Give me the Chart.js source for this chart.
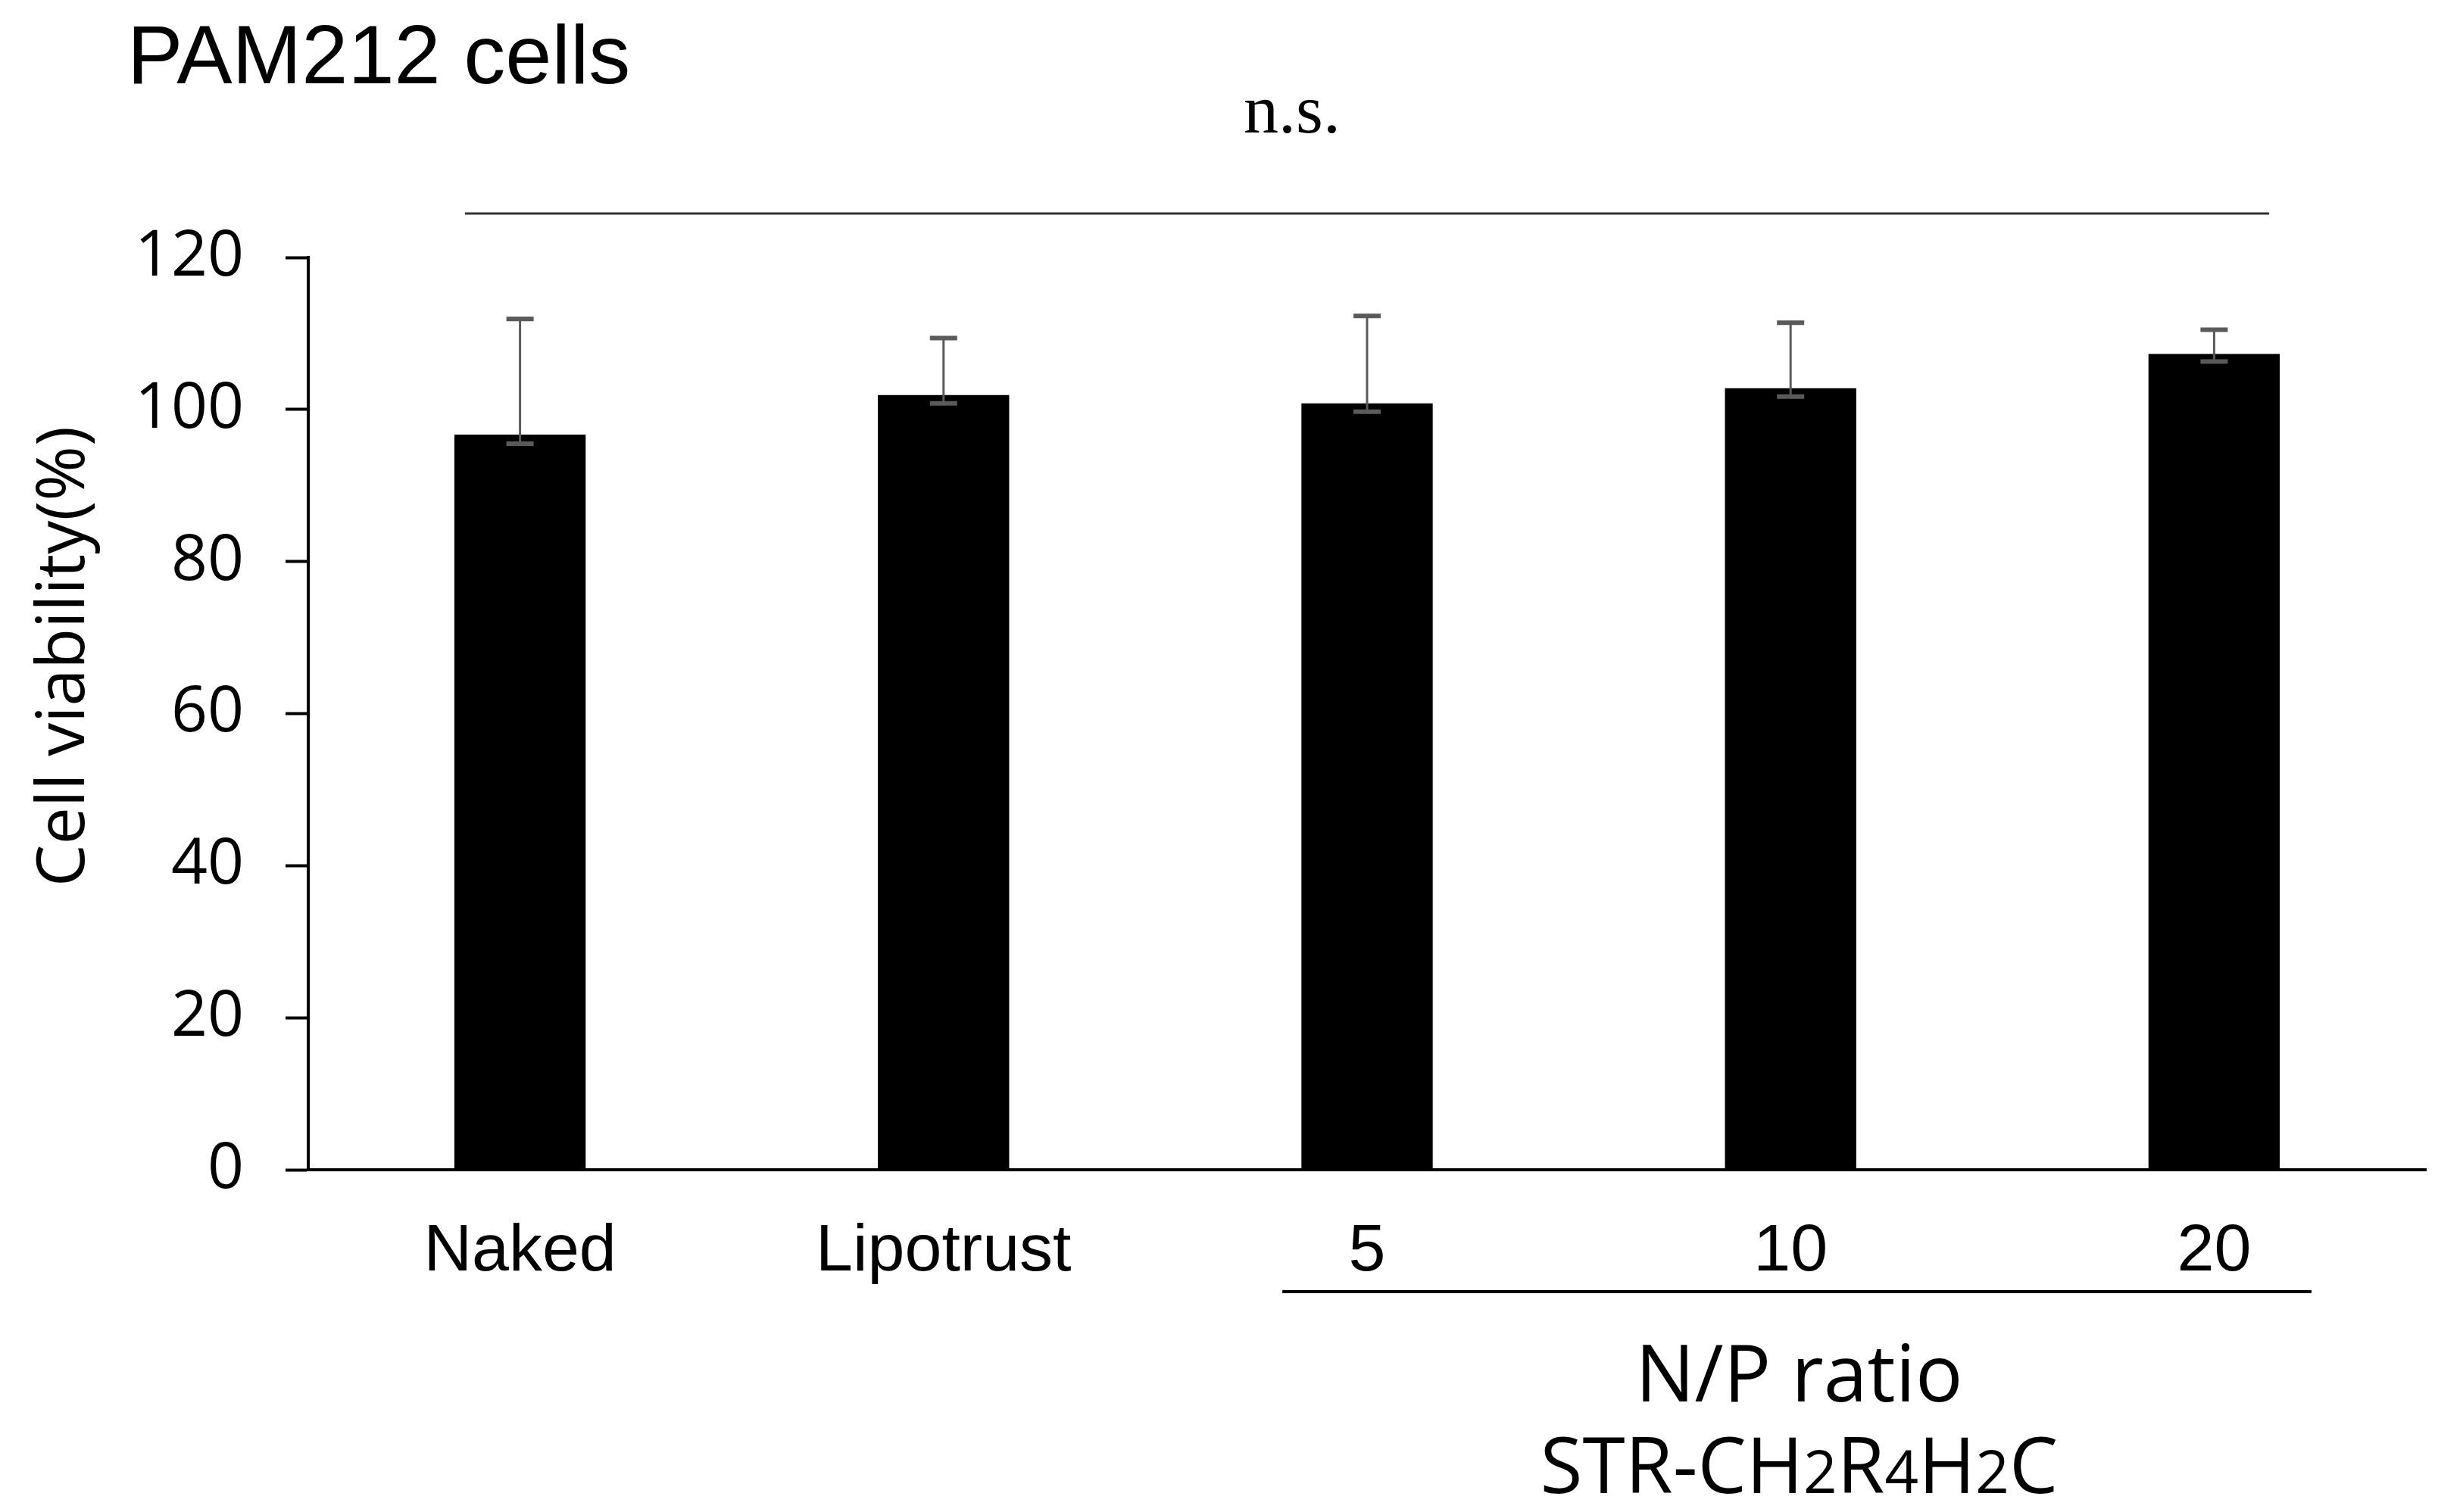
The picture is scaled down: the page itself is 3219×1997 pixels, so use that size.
<!DOCTYPE html>
<html>
<head>
<meta charset="utf-8">
<script src="https://cdn.jsdelivr.net/npm/chart.js@4.4.1/dist/chart.umd.min.js"></script>
<style>
    html, body { margin: 0; padding: 0; background: #fff; }
    canvas { display: block; }
</style>
</head>
<body>
<canvas id="chart" width="3219" height="1997"></canvas>
<script>
const categories = ['Naked', 'Lipotrust', '5', '10', '20'];
const viability = [96.7, 101.9, 100.8, 102.8, 107.3];
const errPlus = [15.2, 7.5, 11.5, 8.6, 3.2];
const errMinus = [1.2, 1.1, 1.1, 1.1, 1.0];
const yTicks = [0, 20, 40, 60, 80, 100, 120];

const titleText = 'PAM212 cells';
const sigText = 'n.s.';
const yTitle = 'Cell viability(%)';
const groupTitle = 'N/P ratio';
// peptide name, split so the digits can be drawn smaller
const peptideParts = [['STR-CH', false], ['2', true], ['R', false], ['4', true], ['H', false], ['2', true], ['C', false]];

const extras = {
    id: 'extras',
    afterDatasetsDraw(chart) {
        const ctx = chart.ctx;
        const x = chart.scales.x;
        const y = chart.scales.y;
        ctx.save();
        ctx.strokeStyle = '#5a5a5a';
        viability.forEach((v, i) => {
            const cx = x.getPixelForValue(i);
            const top = y.getPixelForValue(v + errPlus[i]);
            const low = y.getPixelForValue(v - errMinus[i]);
            ctx.lineWidth = 3;
            ctx.beginPath();
            ctx.moveTo(cx, top);
            ctx.lineTo(cx, low);
            ctx.stroke();
            ctx.lineWidth = 6;
            ctx.beginPath();
            ctx.moveTo(cx - 18, top);
            ctx.lineTo(cx + 18, top);
            ctx.moveTo(cx - 18, low);
            ctx.lineTo(cx + 18, low);
            ctx.stroke();
        });
        ctx.restore();
    },
    afterDraw(chart) {
        const ctx = chart.ctx;
        const x = chart.scales.x;
        const step = x.getPixelForValue(1) - x.getPixelForValue(0);
        ctx.save();
        ctx.fillStyle = '#000';

        // title
        ctx.font = '110px "Liberation Sans"';
        ctx.textAlign = 'left';
        ctx.textBaseline = 'alphabetic';
        ctx.fillText(titleText, 168, 110);

        // significance bracket
        const sigLeft = x.getPixelForValue(0) - step * 0.13;
        const sigRight = x.getPixelForValue(4) + step * 0.13;
        ctx.strokeStyle = '#333';
        ctx.lineWidth = 3;
        ctx.beginPath();
        ctx.moveTo(sigLeft, 282);
        ctx.lineTo(sigRight, 282);
        ctx.stroke();
        ctx.font = '92px "Liberation Serif"';
        ctx.textAlign = 'center';
        ctx.fillText(sigText, 1706, 175);

        // y title
        ctx.save();
        ctx.translate(111, 867);
        ctx.rotate(-Math.PI / 2);
        ctx.font = '88px "Open Sans"';
        ctx.textAlign = 'center';
        ctx.fillText(yTitle, 0, 0);
        ctx.restore();

        // N/P ratio group
        const gLeft = x.getPixelForValue(2) - step * 0.2;
        const gRight = x.getPixelForValue(4) + step * 0.23;
        ctx.strokeStyle = '#000';
        ctx.lineWidth = 4;
        ctx.beginPath();
        ctx.moveTo(gLeft, 1706);
        ctx.lineTo(gRight, 1706);
        ctx.stroke();
        const gCenter = x.getPixelForValue(3) + step * 0.02;
        ctx.font = '104px "Open Sans"';
        ctx.textAlign = 'center';
        ctx.fillText(groupTitle, gCenter, 1851);

        // peptide name with small digits
        const big = '102px "Open Sans"';
        const small = '78px "Open Sans"';
        let total = 0;
        peptideParts.forEach(([t, s]) => {
            ctx.font = s ? small : big;
            total += ctx.measureText(t).width;
        });
        let px = gCenter - total / 2;
        ctx.textAlign = 'left';
        peptideParts.forEach(([t, s]) => {
            ctx.font = s ? small : big;
            ctx.fillText(t, px, 1972);
            px += ctx.measureText(t).width;
        });
        ctx.restore();
    }
};

new Chart(document.getElementById('chart'), {
    type: 'bar',
    data: {
        labels: categories,
        datasets: [{
            data: viability,
            backgroundColor: '#000',
            borderWidth: 0,
            barPercentage: 0.31,
            categoryPercentage: 1
        }]
    },
    options: {
        responsive: false,
        devicePixelRatio: 1,
        animation: false,
        layout: { padding: { top: 340, right: 16, left: 0, bottom: 0 } },
        plugins: { legend: { display: false }, tooltip: { enabled: false } },
        scales: {
            x: {
                grid: { display: false, drawTicks: false },
                border: { display: true, color: '#000', width: 4 },
                ticks: {
                    color: '#000',
                    padding: 56,
                    font: { family: 'Liberation Sans', size: 88 }
                },
                afterFit(scale) { scale.height = 452; }
            },
            y: {
                min: 0,
                max: 120,
                afterBuildTicks(scale) { scale.ticks = yTicks.map(v => ({ value: v })); },
                grid: {
                    drawOnChartArea: false,
                    drawTicks: true,
                    tickLength: 30,
                    tickWidth: 4,
                    tickColor: '#000'
                },
                border: { display: true, color: '#000', width: 4 },
                ticks: {
                    color: '#000',
                    padding: 55,
                    font: { family: 'Open Sans', size: 84 }
                },
                afterFit(scale) { scale.width = 407; }
            }
        }
    },
    plugins: [extras]
});
</script>
</body>
</html>
